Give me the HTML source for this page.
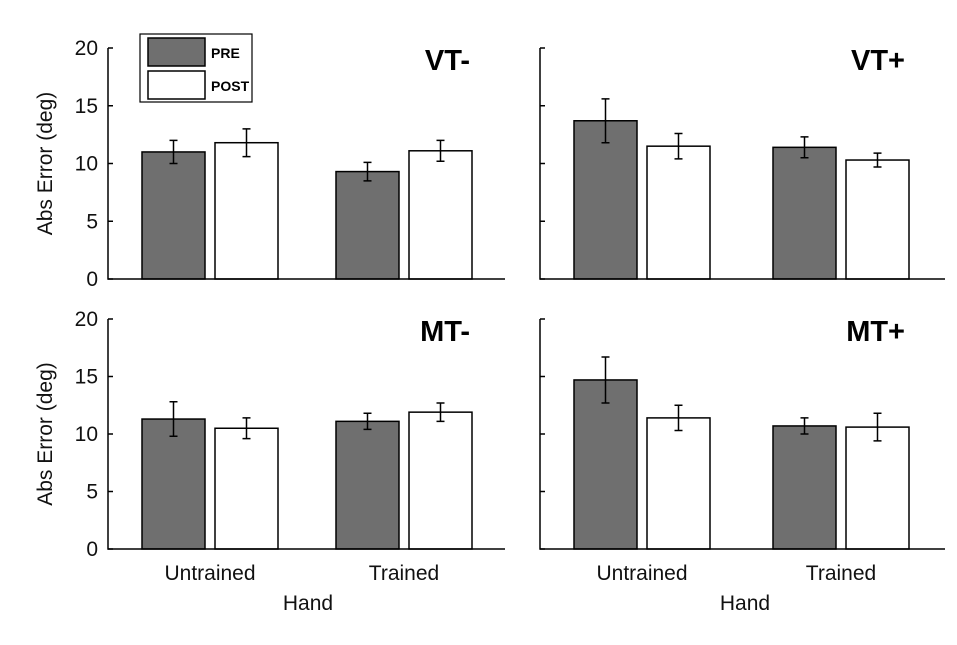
<!DOCTYPE html>
<html><head><meta charset="utf-8">
<style>
body{margin:0;background:#fff;}
svg{display:block;font-family:"Liberation Sans",Arial,sans-serif;}
</style></head>
<body>
<svg id="chart" width="957" height="645" viewBox="0 0 957 645"></svg>
<script>
const categories = ["Untrained","Trained"];
const panelTitles = ["VT-","VT+","MT-","MT+"];
const preValues = [[11.0,9.3],[13.7,11.4],[11.3,11.1],[14.7,10.7]];
const preErrors = [[1.0,0.8],[1.9,0.9],[1.5,0.7],[2.0,0.7]];
const postValues = [[11.8,11.1],[11.5,10.3],[10.5,11.9],[11.4,10.6]];
const postErrors = [[1.2,0.9],[1.1,0.6],[0.9,0.8],[1.1,1.2]];
const yTicks = [0,5,10,15,20];

const svg = document.getElementById('chart');
const NS = 'http://www.w3.org/2000/svg';
function mk(tag, attrs, parent){
  const e = document.createElementNS(NS, tag);
  for (const k in attrs) e.setAttribute(k, attrs[k]);
  (parent||svg).appendChild(e);
  return e;
}
const panels = [
  {x0:108, x1:505, y0:279, y1:48, left:true, bottom:false},
  {x0:540, x1:945, y0:279, y1:48, left:false, bottom:false},
  {x0:108, x1:505, y0:549, y1:319, left:true, bottom:true},
  {x0:540, x1:945, y0:549, y1:319, left:false, bottom:true}
];
const groupStart = [[142,336],[574,773]];
const barW = 63, barGap = 10;

panels.forEach((p, i) => {
  const g = mk('g', {});
  
  
  const yS = v => p.y0 + (p.y1 - p.y0) * v / 20;
  const col = i % 2;
  categories.forEach((c, j) => {
    const xs = groupStart[col][j];
    [[preValues, preErrors, '#6f6f6f', 'pre'], [postValues, postErrors, '#ffffff', 'post']].forEach((s, k) => {
      const v = s[0][i][j], er = s[1][i][j];
      const x = xs + k * (barW + barGap);
      const r = mk('rect', {x:x, y:yS(v), width:barW, height:p.y0 - yS(v), fill:s[2], stroke:'#000', 'stroke-width':1.5}, g);
      
      
      const cx = x + barW / 2;
      const eb = mk('path', {d:`M${cx},${yS(v+er)}V${yS(v-er)}M${cx-4},${yS(v+er)}H${cx+4}M${cx-4},${yS(v-er)}H${cx+4}`, stroke:'#000', 'stroke-width':1.5, fill:'none'}, g);
      
      
    });
    if (p.bottom) {
      const t = mk('text', {x:xs + barW + barGap/2, y:580, 'font-size':21, 'text-anchor':'middle', fill:'#111'}, g);
      t.textContent = c;
      
      
    }
  });
  const ax = mk('path', {d:`M${p.x0},${p.y1}V${p.y0}H${p.x1}`, stroke:'#000', 'stroke-width':1.5, fill:'none'}, g);
  
  
  yTicks.forEach(t => {
    const y = yS(t);
    mk('line', {x1:p.x0, x2:p.x0 + 5, y1:y, y2:y, stroke:'#000', 'stroke-width':1.5}, g);
    if (p.left) {
      const tx = mk('text', {x:p.x0 - 10, y:y + 7, 'font-size':21, 'text-anchor':'end', fill:'#111'}, g);
      tx.textContent = t;
      
      
    }
  });
  const tt = mk('text', {x:col ? 905 : 470, y:p.y1 + 22, 'font-size':29, 'font-weight':'bold', 'text-anchor':'end', fill:'#000'}, g);
  tt.textContent = panelTitles[i];
  
  
  if (p.left) {
    const cy = (p.y0 + p.y1) / 2;
    const yl = mk('text', {x:0, y:0, transform:`translate(52,${cy}) rotate(-90)`, 'font-size':21, 'text-anchor':'middle', fill:'#111'}, g);
    yl.textContent = 'Abs Error (deg)';
    
    
  }
  if (p.bottom) {
    const xl = mk('text', {x:col ? 745 : 308, y:610, 'font-size':21, 'text-anchor':'middle', fill:'#111'}, g);
    xl.textContent = 'Hand';
    
    
  }
});
const lg = mk('g', {});


mk('rect', {x:140, y:34, width:112, height:68, fill:'#fff', stroke:'#000', 'stroke-width':1.2}, lg);
[['PRE', '#6f6f6f', 38], ['POST', '#fff', 71]].forEach(e => {
  const r = mk('rect', {x:148, y:e[2], width:57, height:28, fill:e[1], stroke:'#000', 'stroke-width':1.5}, lg);
  
  
  const t = mk('text', {x:211, y:e[2] + 20, 'font-size':14, 'font-weight':'bold', fill:'#000'}, lg);
  t.textContent = e[0];
  
  
});
</script>
</body></html>
